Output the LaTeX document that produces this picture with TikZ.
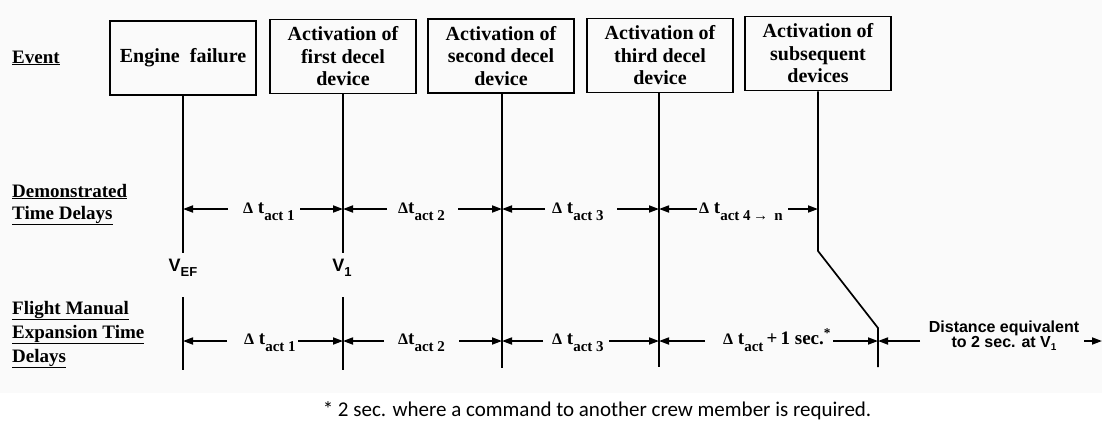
\documentclass[tikz,border=0pt]{standalone}
\usepackage{fontspec}
\setmainfont{Liberation Serif}
\newfontfamily\arialf{Liberation Sans}
\newfontfamily\calibf{Carlito}
\usetikzlibrary{arrows.meta,calc}
\newcommand{\dtsub}[1]{\raisebox{-7pt}{\fontsize{15}{15}\selectfont #1}}
\newcommand{\dtri}{{\fontsize{16}{16}\selectfont Δ}}
\begin{document}
\begin{tikzpicture}[x=1pt,y=-1pt,
  box/.style={draw, line width=1.8pt, minimum width=146pt, minimum height=74pt, align=center,
    font=\fontsize{20}{22.5}\selectfont\bfseries, inner sep=0pt},
  lbl/.style={font=\fontsize{19}{22}\selectfont\bfseries, anchor=base west, inner sep=0pt},
  dt/.style={font=\fontsize{19}{19}\selectfont\bfseries, anchor=base west, inner sep=0pt},
  vlab/.style={font=\arialf\bfseries\fontsize{18}{18}\selectfont, anchor=base, inner sep=0pt},
  vline/.style={line width=1.7pt},
  arr/.style={line width=1.7pt, -{Triangle[length=10pt,width=7pt]}}]
\fill[black!2] (0,0) rectangle (1102,393);
\useasboundingbox (0,0) rectangle (1102,421);
% boxes
\node[box] (b1) at (183,58) {Engine\ \ failure};
\node[box] (b2) at (343,56.5) {Activation of\\first decel\\device};
\node[box] (b3) at (501,56) {Activation of\\second decel\\device};
\node[box] (b4) at (660,55.5) {Activation of\\third decel\\device};
\node[box] (b5) at (818,53.5) {Activation of\\subsequent\\devices};
% left labels
\node[lbl] (ev) at (12,63) {\underline{Event}};
\node[lbl] (dm1) at (12,197) {\underline{Demonstrated}};
\node[lbl] (dm2) at (12,219) {\underline{Time Delays}};
\node[lbl] (fm1) at (12,314) {\underline{Flight Manual}};
\node[lbl] (fm2) at (12,338) {\underline{Expansion Time}};
\node[lbl] (fm3) at (12,362) {\underline{Delays}};
% coordinates
\coordinate (d1) at (183,209); \coordinate (d2) at (343,209); \coordinate (d3) at (502,209);
\coordinate (d4) at (659,209); \coordinate (d5) at (818,209);
\coordinate (f1) at (183,341); \coordinate (f2) at (343,341); \coordinate (f3) at (502,341);
\coordinate (f4) at (659,341); \coordinate (f5) at (878,341); \coordinate (f6) at (1102,341);
\coordinate (l1a) at (183,253); \coordinate (l1b) at (183,297); \coordinate (l1c) at (183,370);
\coordinate (l2a) at (343,253); \coordinate (l2b) at (343,297); \coordinate (l2c) at (343,370);
\coordinate (l3c) at (502,368); \coordinate (l4c) at (659,367);
\coordinate (k1) at (818,251); \coordinate (k2) at (878,328); \coordinate (l5c) at (878,367);
% vertical lines
\draw[vline] (b1.south -| l1a) -- (l1a);
\draw[vline] (l1b) -- (l1c);
\draw[vline] (b2.south -| l2a) -- (l2a);
\draw[vline] (l2b) -- (l2c);
\draw[vline] (b3.south -| l3c) -- (l3c);
\draw[vline] (b4.south -| l4c) -- (l4c);
\draw[vline] (b5.south -| k1) -- (k1) -- (k2) -- (l5c);
% V labels
\node[vlab] (vef) at (183,271) {V\raisebox{-5pt}{\fontsize{13}{13}\selectfont EF}};
\node[vlab] (vone) at (342,271) {V\raisebox{-5pt}{\fontsize{13}{13}\selectfont 1}};
% demonstrated row
\node[dt] (t1) at (243,213) {\dtri\ t\dtsub{act 1}};
\node[dt] (t2) at (398,213) {\dtri t\dtsub{act 2}};
\node[dt] (t3) at (552,213) {\dtri\ t\dtsub{act 3}};
\node[dt] (t4) at (699,213) {\dtri\ t\dtsub{act 4\,→\, n}};
\coordinate (a1l) at (228,209); \coordinate (a1r) at (300,209);
\coordinate (a2l) at (387,209); \coordinate (a2r) at (458,209);
\coordinate (a3l) at (545,209); \coordinate (a3r) at (617,209);
\coordinate (a4l) at (697,209); \coordinate (a4r) at (788,209);
\draw[arr] (a1l) -- (d1); \draw[arr] (a1r) -- (d2);
\draw[arr] (a2l) -- (d2); \draw[arr] (a2r) -- (d3);
\draw[arr] (a3l) -- (d3); \draw[arr] (a3r) -- (d4);
\draw[arr] (a4l) -- (d4); \draw[arr] (a4r) -- (d5);
% flight manual row
\node[dt] (s1) at (244,344) {\dtri\ t\dtsub{act 1}};
\node[dt] (s2) at (398,344) {\dtri t\dtsub{act 2}};
\node[dt] (s3) at (552,344) {\dtri\ t\dtsub{act 3}};
\node[dt] (s4) at (723,344) {\dtri\ t\dtsub{act}\,+\,1 sec.\textsuperscript{*}};
\node[font=\arialf\bfseries\fontsize{16}{15}\selectfont, align=center, inner sep=0pt] (s5) at (1004,336)
  {Distance equivalent\\to 2 sec. at V\raisebox{-3pt}{\fontsize{10}{10}\selectfont 1}};
\coordinate (b1l) at (227,341); \coordinate (b1r) at (298,341);
\coordinate (b2l) at (384,341); \coordinate (b2r) at (459,341);
\coordinate (b3l) at (543,341); \coordinate (b3r) at (609,341);
\coordinate (b4l) at (705,341); \coordinate (b4r) at (833,341);
\coordinate (b5l) at (920,341); \coordinate (b5r) at (1084,341);
\draw[arr] (b1l) -- (f1); \draw[arr] (b1r) -- (f2);
\draw[arr] (b2l) -- (f2); \draw[arr] (b2r) -- (f3);
\draw[arr] (b3l) -- (f3); \draw[arr] (b3r) -- (f4);
\draw[arr] (b4l) -- (f4); \draw[arr] (b4r) -- (f5);
\draw[arr] (b5l) -- (f5); \draw[arr] (b5r) -- (f6);
% footnote
\node[font=\calibf\fontsize{21}{21}\selectfont, anchor=base, inner sep=0pt] (fn) at (597,416)
  {* 2 sec. where a command to another crew member is required.};
\end{tikzpicture}
\end{document}
